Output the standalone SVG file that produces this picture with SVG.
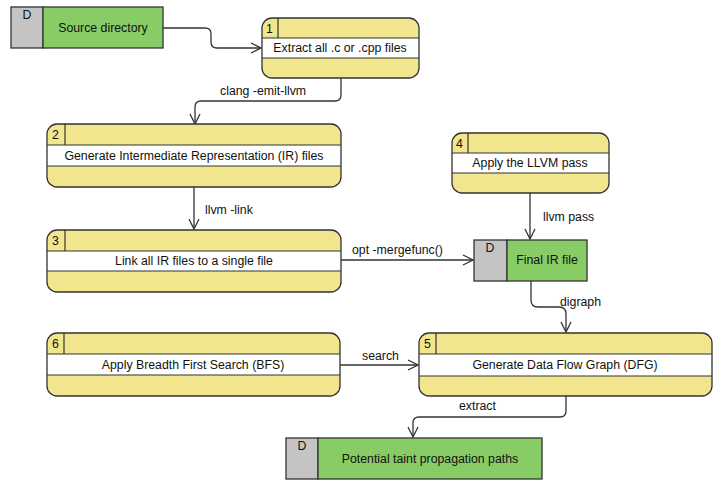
<svg xmlns="http://www.w3.org/2000/svg" width="720" height="484" viewBox="0 0 720 484">
<defs>
<style>
text{font-family:"Liberation Sans",Arial,Helvetica,sans-serif;font-size:12.3px;fill:#111}
.c{text-anchor:middle}
.y{fill:#f1e68d;stroke:none}
.w{fill:#fff;stroke:none}
.o{fill:none;stroke:#333;stroke-width:1.3}
.l{stroke:#333;stroke-width:1.2}
.g{fill:#c4c4c4;stroke:#333;stroke-width:1.3}
.gr{fill:#88cc66;stroke:#333;stroke-width:1.3}
.e{fill:none;stroke:#333;stroke-width:1.3;marker-end:url(#a)}
</style>
<marker id="a" markerUnits="userSpaceOnUse" markerWidth="12" markerHeight="12" refX="11" refY="6" orient="auto" viewBox="0 0 12 12">
<path d="M1,1 L11,6 L1,11" fill="none" stroke="#333" stroke-width="1.3"/>
</marker>
</defs>
<g id="connectors">
<path class="e" d="M163,28 H205 Q211,28 211,34 V42 Q211,48 217,48 H261"/>
<path class="e" d="M341,78 V95 Q341,101 335,101 H201 Q195,101 195,107 V124"/>
<text x="220" y="95">clang -emit-llvm</text>
<path class="e" d="M194,187 V229"/>
<text x="205" y="214">llvm -link</text>
<path class="e" d="M341,260 H473"/>
<text x="352" y="254">opt -mergefunc()</text>
<path class="e" d="M530,193 V239"/>
<text x="543" y="221">llvm pass</text>
<path class="e" d="M531,281 V300 Q531,307 538,307 H559 Q566,307 566,314 V332"/>
<text x="560" y="306">digraph</text>
<path class="e" d="M340,365 H418"/>
<text x="362" y="360">search</text>
<path class="e" d="M566,396 V411 Q566,417 560,417 H419 Q413,417 413,423 V437"/>
<text x="459" y="410">extract</text>
</g>
<g id="source">
<rect class="g" x="11" y="7" width="32" height="41"/>
<rect class="gr" x="43" y="7" width="120" height="41"/>
<text class="c" x="27" y="19">D</text>
<text class="c" x="103" y="32">Source directory</text>
</g>
<g id="n1">
<rect class="y" x="262" y="18" width="157" height="60" rx="10"/>
<rect class="w" x="262" y="38" width="157" height="20"/>
<line class="l" x1="262" y1="38" x2="419" y2="38"/>
<line class="l" x1="262" y1="58" x2="419" y2="58"/>
<line class="l" x1="278" y1="18" x2="278" y2="38"/>
<rect class="o" x="262" y="18" width="157" height="60" rx="10"/>
<text x="266" y="33">1</text>
<text class="c" x="340" y="52">Extract all .c or .cpp files</text>
</g>
<g id="n2">
<rect class="y" x="47" y="124" width="294" height="63" rx="10"/>
<rect class="w" x="47" y="145" width="294" height="21"/>
<line class="l" x1="47" y1="145" x2="341" y2="145"/>
<line class="l" x1="47" y1="166" x2="341" y2="166"/>
<line class="l" x1="65" y1="124" x2="65" y2="145"/>
<rect class="o" x="47" y="124" width="294" height="63" rx="10"/>
<text x="52" y="139">2</text>
<text class="c" x="194" y="160">Generate Intermediate Representation (IR) files</text>
</g>
<g id="n3">
<rect class="y" x="47" y="230" width="294" height="62" rx="10"/>
<rect class="w" x="47" y="251" width="294" height="20"/>
<line class="l" x1="47" y1="251" x2="341" y2="251"/>
<line class="l" x1="47" y1="271" x2="341" y2="271"/>
<line class="l" x1="65" y1="230" x2="65" y2="251"/>
<rect class="o" x="47" y="230" width="294" height="62" rx="10"/>
<text x="52" y="245">3</text>
<text class="c" x="194" y="265">Link all IR files to a single file</text>
</g>
<g id="n4">
<rect class="y" x="452" y="133" width="157" height="60" rx="10"/>
<rect class="w" x="452" y="153" width="157" height="20"/>
<line class="l" x1="452" y1="153" x2="609" y2="153"/>
<line class="l" x1="452" y1="173" x2="609" y2="173"/>
<line class="l" x1="468" y1="133" x2="468" y2="153"/>
<rect class="o" x="452" y="133" width="157" height="60" rx="10"/>
<text x="456" y="148">4</text>
<text class="c" x="530" y="167">Apply the LLVM pass</text>
</g>
<g id="final">
<rect class="g" x="474" y="240" width="33" height="41"/>
<rect class="gr" x="507" y="240" width="80" height="41"/>
<text class="c" x="490" y="252">D</text>
<text class="c" x="547" y="264">Final IR file</text>
</g>
<g id="n5">
<rect class="y" x="419" y="333" width="293" height="63" rx="10"/>
<rect class="w" x="419" y="354" width="293" height="22"/>
<line class="l" x1="419" y1="354" x2="712" y2="354"/>
<line class="l" x1="419" y1="376" x2="712" y2="376"/>
<line class="l" x1="436" y1="333" x2="436" y2="354"/>
<rect class="o" x="419" y="333" width="293" height="63" rx="10"/>
<text x="424" y="348">5</text>
<text class="c" x="565" y="369">Generate Data Flow Graph (DFG)</text>
</g>
<g id="n6">
<rect class="y" x="47" y="333" width="293" height="63" rx="10"/>
<rect class="w" x="47" y="354" width="293" height="21"/>
<line class="l" x1="47" y1="354" x2="340" y2="354"/>
<line class="l" x1="47" y1="375" x2="340" y2="375"/>
<line class="l" x1="64" y1="333" x2="64" y2="354"/>
<rect class="o" x="47" y="333" width="293" height="63" rx="10"/>
<text x="52" y="348">6</text>
<text class="c" x="193" y="369">Apply Breadth First Search (BFS)</text>
</g>
<g id="potential">
<rect class="g" x="286" y="438" width="32" height="41"/>
<rect class="gr" x="318" y="438" width="224" height="41"/>
<text class="c" x="302" y="450">D</text>
<text class="c" x="430" y="463">Potential taint propagation paths</text>
</g>
</svg>
